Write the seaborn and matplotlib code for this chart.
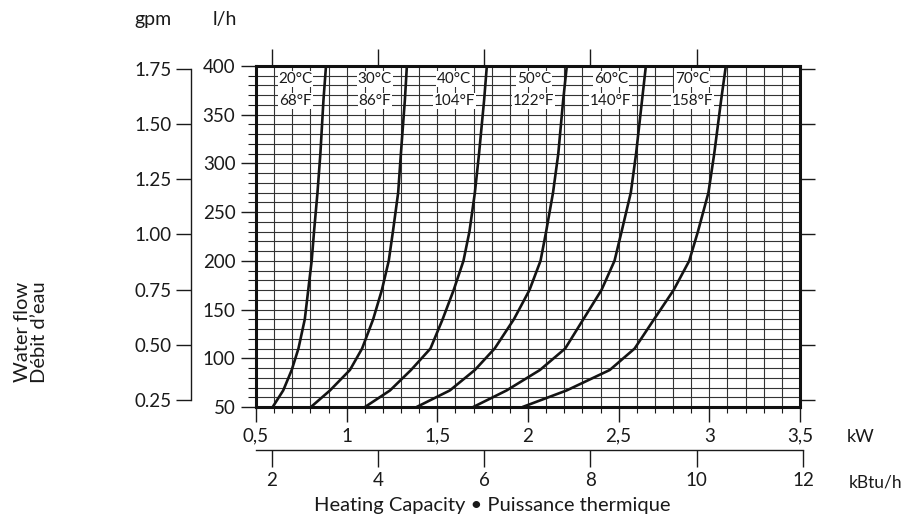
import numpy as np
import pandas as pd
import matplotlib
matplotlib.use("Agg")
import matplotlib.pyplot as plt
import seaborn as sns
from matplotlib.ticker import MultipleLocator, FixedLocator, NullLocator

# ---------------- data ----------------
flow_lh = [50, 67, 88, 110, 140, 170, 200, 230, 270, 310, 365, 400]
kw_20 = [0.592, 0.650, 0.697, 0.734, 0.769, 0.788, 0.807, 0.820, 0.839, 0.855, 0.872, 0.886]
kw_30 = [0.803, 0.908, 1.018, 1.085, 1.146, 1.194, 1.232, 1.255, 1.284, 1.299, 1.321, 1.332]
kw_40 = [1.101, 1.239, 1.355, 1.462, 1.529, 1.590, 1.644, 1.677, 1.707, 1.730, 1.758, 1.773]
kw_50 = [1.386, 1.569, 1.707, 1.816, 1.922, 2.008, 2.069, 2.100, 2.138, 2.167, 2.194, 2.214]
kw_60 = [1.698, 1.882, 2.066, 2.205, 2.305, 2.405, 2.477, 2.516, 2.567, 2.596, 2.629, 2.650]
kw_70 = [1.970, 2.213, 2.451, 2.588, 2.695, 2.803, 2.889, 2.937, 2.995, 3.027, 3.065, 3.091]

temps_c = ["20°C", "30°C", "40°C", "50°C", "60°C", "70°C"]
temps_f = ["68°F", "86°F", "104°F", "122°F", "140°F", "158°F"]
label_kw = [0.718, 1.156, 1.593, 2.032, 2.457, 2.905]
label_lh_c = 386.5
label_lh_f = 364.0

kw_ticks = [0.5, 1.0, 1.5, 2.0, 2.5, 3.0, 3.5]
kw_ticklabels = ["0,5", "1", "1,5", "2", "2,5", "3", "3,5"]
lh_ticks = [50, 100, 150, 200, 250, 300, 350, 400]
gpm_ticks = [0.25, 0.50, 0.75, 1.00, 1.25, 1.50, 1.75]
gpm_ticklabels = ["0.25", "0.50", "0.75", "1.00", "1.25", "1.50", "1.75"]
kbtu_ticks = [2, 4, 6, 8, 10, 12]

KBTU_PER_KW = 3.412
LH_PER_GPM = 227.1

curves = [kw_20, kw_30, kw_40, kw_50, kw_60, kw_70]
df = pd.concat(
    [pd.DataFrame({"kW": c, "lh": flow_lh, "curve": t}) for c, t in zip(curves, temps_c)],
    ignore_index=True,
)

# ---------------- style ----------------
sns.set_theme(style="white")
plt.rcParams["font.family"] = ["Lato", "DejaVu Sans"]
TXT = "#1a1a1a"
TICK_FS = 13.5

W, H = 904, 517
fig = plt.figure(figsize=(W / 100, H / 100), dpi=100)
fx = lambda p: p / W
fy = lambda p: 1 - p / H

ax = fig.add_axes([fx(256), fy(407), (800 - 256) / W, (407 - 66) / H])
ax.set_facecolor("white")

sns.lineplot(data=df, x="kW", y="lh", hue="curve", palette=["#141414"] * 6,
             estimator=None, sort=False, linewidth=1.9, legend=False, ax=ax, zorder=3)
for ln in ax.lines:
    ln.set_solid_joinstyle("round")

ax.set_xlim(0.5, 3.5)
ax.set_ylim(50, 400)
ax.set_xlabel("")
ax.set_ylabel("")

ax.xaxis.set_major_locator(FixedLocator(kw_ticks))
ax.set_xticklabels(kw_ticklabels)
ax.xaxis.set_minor_locator(MultipleLocator(0.1))
ax.yaxis.set_major_locator(FixedLocator(lh_ticks))
ax.set_yticklabels([str(v) for v in lh_ticks])
ax.yaxis.set_minor_locator(MultipleLocator(10))

ax.grid(which="both", color="#333333", linewidth=0.8)
ax.set_axisbelow(True)

ax.tick_params(axis="x", which="major", bottom=True, direction="out", length=10.8,
               width=1.0, color=TXT, labelsize=TICK_FS, labelcolor=TXT, pad=4)
ax.tick_params(axis="x", which="minor", bottom=True, direction="out", length=4.3,
               width=0.8, color=TXT)
ax.tick_params(axis="y", which="major", left=True, direction="out", length=10.8,
               width=1.0, color=TXT, labelsize=TICK_FS, labelcolor=TXT, pad=4)
ax.tick_params(axis="y", which="minor", left=True, direction="out", length=5.5,
               width=0.8, color=TXT)
for s in ax.spines.values():
    s.set_visible(True)
    s.set_linewidth(2.2)
    s.set_color("#111111")

# top kBtu/h ticks
sec_top = ax.secondary_xaxis("top", functions=(lambda k: k * KBTU_PER_KW, lambda b: b / KBTU_PER_KW))
sec_top.set_xticks(kbtu_ticks)
sec_top.xaxis.set_minor_locator(NullLocator())
sec_top.tick_params(axis="x", top=True, labeltop=False, direction="out", length=12.2, width=1.0, color=TXT)
sec_top.spines["top"].set_visible(False)

# right gpm ticks
sec_right = ax.secondary_yaxis("right", functions=(lambda l: l / LH_PER_GPM, lambda g: g * LH_PER_GPM))
sec_right.set_yticks(gpm_ticks)
sec_right.yaxis.set_minor_locator(NullLocator())
sec_right.tick_params(axis="y", right=True, labelright=False, direction="out", length=10.8, width=1.0, color=TXT)
sec_right.spines["right"].set_visible(False)

# left gpm axis
sec_left = ax.secondary_yaxis(-65 / 544, functions=(lambda l: l / LH_PER_GPM, lambda g: g * LH_PER_GPM))
sec_left.set_yticks(gpm_ticks)
sec_left.set_yticklabels(gpm_ticklabels)
sec_left.yaxis.set_minor_locator(NullLocator())
sec_left.tick_params(axis="y", left=True, direction="out", length=10.8, width=1.0, color=TXT,
                     labelsize=TICK_FS, labelcolor=TXT, pad=3)
sec_left.spines["left"].set_bounds(gpm_ticks[0], gpm_ticks[-1])
sec_left.spines["left"].set_linewidth(1.0)
sec_left.spines["left"].set_color(TXT)

# bottom kBtu/h axis
axb = fig.add_axes([fx(256), fy(450), (806 - 256) / W, 0.0001])
axb.set_facecolor("none")
kbtu_left = kw_ticks[0] * KBTU_PER_KW
axb.set_xlim(kbtu_left, kbtu_left + 550 * KBTU_PER_KW / (544 / 3.0))
axb.set_yticks([])
for k in ["left", "right", "top"]:
    axb.spines[k].set_visible(False)
axb.spines["bottom"].set_bounds(kbtu_left, kbtu_ticks[-1])
axb.spines["bottom"].set_linewidth(1.0)
axb.spines["bottom"].set_color(TXT)
axb.set_xticks(kbtu_ticks)
axb.set_xticklabels([str(v) for v in kbtu_ticks])
axb.tick_params(axis="x", bottom=True, direction="out", length=12.2, width=1.0, color=TXT,
                labelsize=TICK_FS, labelcolor=TXT, pad=4)

# curve labels
for k, tc, tf in zip(label_kw, temps_c, temps_f):
    for y, t in ((label_lh_c, tc), (label_lh_f, tf)):
        ax.text(k, y, t, ha="center", va="center", fontsize=11, color=TXT, zorder=4,
                bbox=dict(facecolor="white", edgecolor="none", pad=0.5))

# axis titles
fig.text(fx(847), fy(437), "kW", ha="left", va="center", fontsize=13, color=TXT)
fig.text(fx(849), fy(482), "kBtu/h", ha="left", va="center", fontsize=12.5, color=TXT)
fig.text(fx(492), fy(506), "Heating Capacity • Puissance thermique", ha="center", va="center",
         fontsize=14.5, color=TXT)
fig.text(fx(153), fy(20), "gpm", ha="center", va="center", fontsize=14, color=TXT)
fig.text(fx(225), fy(20), "l/h", ha="center", va="center", fontsize=14, color=TXT)
fig.text(fx(31), fy(332), "Water flow\nDébit d\u2019eau", rotation=90, ha="center", va="center",
         multialignment="center", fontsize=14.5, color=TXT, linespacing=1.0)

fig.savefig("out.png", dpi=100, facecolor="white")
